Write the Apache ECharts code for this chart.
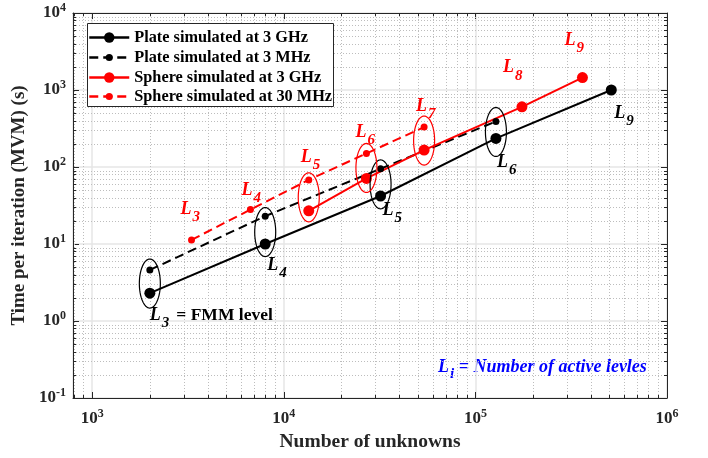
<!DOCTYPE html>
<html>
<head>
<meta charset="utf-8">
<script src="https://cdn.jsdelivr.net/npm/echarts@6/dist/echarts.min.js"></script>
<style>
html, body { margin: 0; padding: 0; background: #fff; }
#main { width: 708px; height: 458px; }
</style>
</head>
<body>
<div id="main"></div>
<script>
// values
var plateGHzN = [2000, 8000, 32000, 128000, 512000];
var plateGHzT = [2.3, 10, 42, 235, 1000];
var plateMHzN = [2000, 8000, 32000, 128000];
var plateMHzT = [4.6, 23, 95, 390];
var sphereGHzN = [13500, 27000, 54000, 175000, 362000];
var sphereGHzT = [27, 71, 166, 605, 1450];
var sphereMHzN = [3300, 6700, 13500, 27000, 54000];
var sphereMHzT = [11.3, 28, 68, 150, 330];

var seriesNames = ['Plate simulated at 3 GHz', 'Plate simulated at 3 MHz',
    'Sphere simulated at 3 GHz', 'Sphere simulated at 30 MHz'];

// active levels written next to the points
var plateLevels = ['3', '4', '5', '6', '9'];       // on the 3 GHz plate points
var sphereMHzLevels = ['3', '4', '5', '6', '7'];   // on the 30 MHz sphere points
var sphereGHzLevels = [null, null, null, '8', '9'];

var xMinExp = 2.9, xMax = 1e6;
var yMin = 0.1, yMax = 1e4;

var ff = 'Liberation Serif';

function zip(a, b) {
    var out = [];
    for (var i = 0; i < a.length; i++) out.push([a[i], b[i]]);
    return out;
}

function powLabel(v) {
    var e = Math.log10(v);
    if (Math.abs(e - Math.round(e)) > 1e-6) return '';
    return '{b|10}{s|' + Math.round(e) + '}';
}
var powRich = {
    b: { fontFamily: ff, fontWeight: 'bold', fontSize: 17, color: '#262626' },
    s: { fontFamily: ff, fontWeight: 'bold', fontSize: 12, color: '#262626', padding: [0, 0, 10, 0] }
};

// minor grid positions (2..9 x 10^k)
var xMinor = [], yMinor = [];
for (var e = 2; e <= 5; e++) {
    for (var m = 2; m <= 9; m++) {
        var v = m * Math.pow(10, e);
        if (v > Math.pow(10, xMinExp) && v < xMax) xMinor.push([v, 1]);
    }
}
for (var e2 = -1; e2 <= 3; e2++) {
    for (var m2 = 2; m2 <= 9; m2++) yMinor.push([1000, m2 * Math.pow(10, e2)]);
}

// ellipses: [x, y of one point, y of other point]
var blackRings = [];
for (var i = 0; i < plateMHzN.length; i++) blackRings.push([plateGHzN[i], plateGHzT[i], plateMHzT[i]]);
var redRings = [];
for (var j = 2; j < sphereMHzN.length; j++) redRings.push([sphereGHzN[j - 2], sphereGHzT[j - 2], sphereMHzT[j]]);

// level labels and their offsets from the point
var labelData = [], labelInfo = [];
var blackOff = [[0, 22], [2, 21], [2, 14], [1, 24], [3, 23]];
plateLevels.forEach(function (lv, k) {
    labelData.push([plateGHzN[k], plateGHzT[k]]);
    labelInfo.push({ lv: lv, off: blackOff[k], color: '#000', extra: k === 0 ? '= FMM level' : null });
});
var redMHzOff = [[-11, -31], [-9, -19], [-8, -23], [-11, -21], [-8, -21]];
sphereMHzLevels.forEach(function (lv, k) {
    labelData.push([sphereMHzN[k], sphereMHzT[k]]);
    labelInfo.push({ lv: lv, off: redMHzOff[k], color: '#ff0000' });
});
var redGHzOff = [null, null, null, [-19, -39], [-18, -37]];
sphereGHzLevels.forEach(function (lv, k) {
    if (!lv) return;
    labelData.push([sphereGHzN[k], sphereGHzT[k]]);
    labelInfo.push({ lv: lv, off: redGHzOff[k], color: '#ff0000' });
});

function ringRender(color) {
    return function (params, api) {
        var p1 = api.coord([api.value(0), api.value(1)]);
        var p2 = api.coord([api.value(0), api.value(2)]);
        var cx = p1[0], cy = (p1[1] + p2[1]) / 2 + 2;
        var pts = [];
        for (var a = 0; a <= 64; a++) {
            var t = a / 64 * Math.PI * 2;
            pts.push([cx + 10.5 * Math.cos(t), cy + 24.5 * Math.sin(t)]);
        }
        return { type: 'polyline', shape: { points: pts }, style: { fill: null, stroke: color, lineWidth: 1.2 } };
    };
}

function vGrid(params, api) {
    var cs = params.coordSys;
    var x = Math.round(api.coord([api.value(0), 1])[0]) + 0.5;
    var b = cs.y + cs.height;
    return { type: 'group', children: [
        { type: 'line', shape: { x1: x, y1: cs.y, x2: x, y2: b }, style: { stroke: '#bdbdbd', lineWidth: 1, lineDash: [1, 2] } },
        { type: 'line', shape: { x1: x, y1: b, x2: x, y2: b - 3 }, style: { stroke: '#262626', lineWidth: 1 } },
        { type: 'line', shape: { x1: x, y1: cs.y, x2: x, y2: cs.y + 3 }, style: { stroke: '#262626', lineWidth: 1 } }
    ] };
}
function hGrid(params, api) {
    var cs = params.coordSys;
    var y = Math.round(api.coord([1000, api.value(1)])[1]) + 0.5;
    var r = cs.x + cs.width;
    return { type: 'group', children: [
        { type: 'line', shape: { x1: cs.x, y1: y, x2: r, y2: y }, style: { stroke: '#bdbdbd', lineWidth: 1, lineDash: [1, 2] } },
        { type: 'line', shape: { x1: cs.x, y1: y, x2: cs.x + 3, y2: y }, style: { stroke: '#262626', lineWidth: 1 } },
        { type: 'line', shape: { x1: r, y1: y, x2: r - 3, y2: y }, style: { stroke: '#262626', lineWidth: 1 } }
    ] };
}

function labelRender(params, api) {
    var info = labelInfo[params.dataIndex];
    var p = api.coord([api.value(0), api.value(1)]);
    var text = '{l|L}{s|' + info.lv + '}' + (info.extra ? '{e|' + info.extra + '}' : '');
    return {
        type: 'text',
        x: p[0] + info.off[0],
        y: p[1] + info.off[1],
        style: {
            text: text,
            align: 'left',
            verticalAlign: 'middle',
            rich: {
                l: { fontFamily: ff, fontStyle: 'italic', fontWeight: 'bold', fontSize: 18, fill: info.color },
                s: { fontFamily: ff, fontStyle: 'italic', fontWeight: 'bold', fontSize: 15, fill: info.color, padding: [16, 0, 0, 1] },
                e: { fontFamily: ff, fontWeight: 'bold', fontSize: 17.5, fill: info.color, padding: [0, 0, 0, 7] }
            }
        }
    };
}

// one legend per row so the dashed rows can get the smaller dot
function legendRow(k, top) {
    var small = k % 2 === 1;
    return {
        data: [seriesNames[k]],
        left: 88,
        top: top,
        itemWidth: 40,
        itemHeight: small ? 9 : 13,
        padding: 0,
        z: 10,
        lineStyle: { width: 2.5 },
        textStyle: { fontFamily: ff, fontWeight: 'bold', fontSize: 16.3, color: '#000', lineHeight: 16 }
    };
}

var axisLineStyle = { show: true, onZero: false, lineStyle: { color: '#262626', width: 1 } };
var axisTickStyle = { show: true, inside: true, length: 6, lineStyle: { color: '#262626', width: 1 } };
var splitStyle = { show: true, lineStyle: { color: '#e6e6e6', width: 1.5 } };

var option = {
    animation: false,
    backgroundColor: '#fff',
    grid: { left: 73, right: 41, top: 13, bottom: 60, containLabel: false },
    legend: [legendRow(0, 29.5), legendRow(1, 49.5), legendRow(2, 69.5), legendRow(3, 88.5)],
    xAxis: [{
        type: 'log', logBase: 10, min: Math.pow(10, xMinExp), max: xMax, position: 'bottom',
        axisLine: axisLineStyle, axisTick: axisTickStyle,
        axisLabel: { formatter: powLabel, rich: powRich, margin: 10 },
        splitLine: splitStyle,
        name: 'Number of unknowns', nameLocation: 'middle', nameGap: 33,
        nameTextStyle: { fontFamily: ff, fontWeight: 'bold', fontSize: 19.5, color: '#262626' }
    }, {
        type: 'log', logBase: 10, min: Math.pow(10, xMinExp), max: xMax, position: 'top',
        axisLine: axisLineStyle, axisTick: axisTickStyle,
        axisLabel: { show: false }, splitLine: { show: false }
    }],
    yAxis: [{
        type: 'log', logBase: 10, min: yMin, max: yMax, position: 'left',
        axisLine: axisLineStyle, axisTick: axisTickStyle,
        axisLabel: { formatter: powLabel, rich: powRich, margin: 7 },
        splitLine: splitStyle,
        name: 'Time per iteration (MVM) (s)', nameLocation: 'middle', nameGap: 39, nameRotate: 90,
        nameTextStyle: { fontFamily: ff, fontWeight: 'bold', fontSize: 19, color: '#262626' }
    }, {
        type: 'log', logBase: 10, min: yMin, max: yMax, position: 'right',
        axisLine: axisLineStyle, axisTick: axisTickStyle,
        axisLabel: { show: false }, splitLine: { show: false }
    }],
    graphic: [{
        type: 'rect',
        z: 8,
        shape: { x: 87.5, y: 23.5, width: 246, height: 83 },
        style: { fill: '#fff', stroke: '#262626', lineWidth: 1 }
    }, {
        type: 'text',
        x: 438,
        y: 367,
        style: {
            text: '{l|L}{s|i}{t| = Number of active levles}',
            align: 'left',
            verticalAlign: 'middle',
            rich: {
                l: { fontFamily: ff, fontStyle: 'italic', fontWeight: 'bold', fontSize: 18, fill: '#0000ff' },
                s: { fontFamily: ff, fontStyle: 'italic', fontWeight: 'bold', fontSize: 15, fill: '#0000ff', padding: [14, 0, 0, 1] },
                t: { fontFamily: ff, fontStyle: 'italic', fontWeight: 'bold', fontSize: 18, fill: '#0000ff' }
            }
        }
    }],
    series: [
        { type: 'custom', data: xMinor, renderItem: vGrid, silent: true, z: 1, encode: { x: 0, y: 1 } },
        { type: 'custom', data: yMinor, renderItem: hGrid, silent: true, z: 1, encode: { x: 0, y: 1 } },
        {
            name: seriesNames[0], type: 'line', data: zip(plateGHzN, plateGHzT),
            symbol: 'circle', symbolSize: 11, itemStyle: { color: '#000' },
            lineStyle: { color: '#000', width: 2 }, z: 5
        },
        {
            name: seriesNames[1], type: 'line', data: zip(plateMHzN, plateMHzT),
            symbol: 'circle', symbolSize: 7, itemStyle: { color: '#000' },
            lineStyle: { color: '#000', width: 2, type: [9, 5] }, z: 5
        },
        {
            name: seriesNames[2], type: 'line', data: zip(sphereGHzN, sphereGHzT),
            symbol: 'circle', symbolSize: 11, itemStyle: { color: '#ff0000' },
            lineStyle: { color: '#ff0000', width: 2 }, z: 5
        },
        {
            name: seriesNames[3], type: 'line', data: zip(sphereMHzN, sphereMHzT),
            symbol: 'circle', symbolSize: 7, itemStyle: { color: '#ff0000' },
            lineStyle: { color: '#ff0000', width: 2, type: [9, 5] }, z: 5
        },
        { type: 'custom', data: blackRings, renderItem: ringRender('#000'), silent: true, z: 6, encode: { x: 0, y: [1, 2] } },
        { type: 'custom', data: redRings, renderItem: ringRender('#ff0000'), silent: true, z: 6, encode: { x: 0, y: [1, 2] } },
        { type: 'custom', data: labelData, renderItem: labelRender, silent: true, z: 7, encode: { x: 0, y: 1 } }
    ]
};

var myChart = echarts.init(document.getElementById('main'));
myChart.setOption(option);
</script>
</body>
</html>
